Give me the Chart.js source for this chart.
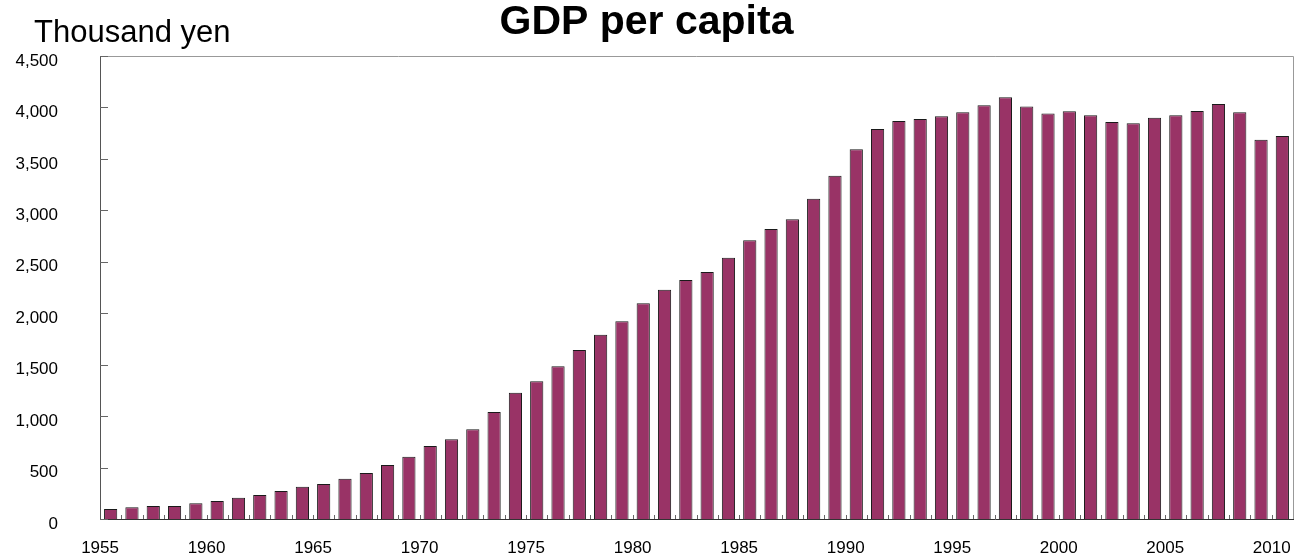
<!DOCTYPE html>
<html lang="en">
<head>
  <meta charset="UTF-8" />
  <title>GDP per capita</title>
  <script src="https://cdn.jsdelivr.net/npm/chart.js"></script>
  <style>
    body {
      margin: 0;
      background: #ffffff;
      overflow: hidden;
    }
    canvas {
      display: block;
    }
  </style>
</head>
<body>
  <canvas id="gdpChart" width="1298" height="557"></canvas>

  <script>
    const years = [
      "1955", "1956", "1957", "1958", "1959", "1960", "1961", "1962", "1963", "1964",
      "1965", "1966", "1967", "1968", "1969", "1970", "1971", "1972", "1973", "1974",
      "1975", "1976", "1977", "1978", "1979", "1980", "1981", "1982", "1983", "1984",
      "1985", "1986", "1987", "1988", "1989", "1990", "1991", "1992", "1993", "1994",
      "1995", "1996", "1997", "1998", "1999", "2000", "2001", "2002", "2003", "2004",
      "2005", "2006", "2007", "2008", "2009", "2010"
    ];

    // thousand yen
    const gdpPerCapita = [
      97, 113, 126, 126, 152, 175, 207, 233, 272, 314,
      340, 392, 447, 525, 606, 710, 775, 872, 1040, 1228,
      1338, 1484, 1643, 1791, 1922, 2097, 2229, 2323, 2401, 2540,
      2709, 2819, 2913, 3113, 3337, 3593, 3791, 3868, 3888, 3914,
      3953, 4021, 4099, 4008, 3940, 3962, 3924, 3859, 3846, 3901,
      3924, 3966, 4034, 3953, 3687, 3723
    ];

    const yTicks = [0, 500, 1000, 1500, 2000, 2500, 3000, 3500, 4000, 4500];
    const labelYears = ["1955", "1960", "1965", "1970", "1975", "1980", "1985", "1990", "1995", "2000", "2005", "2010"];

    const FONT = "'Liberation Sans', Arial, sans-serif";

    // frame, inner tick marks and the unit label
    const extras = {
      id: 'extras',
      afterDraw(chart) {
        const { ctx, chartArea: a, scales } = chart;
        ctx.save();

        ctx.strokeStyle = '#999';
        ctx.lineWidth = 1;
        ctx.beginPath();
        ctx.moveTo(a.left, a.top + 0.5);
        ctx.lineTo(a.right + 0.5, a.top + 0.5);
        ctx.lineTo(a.right + 0.5, a.bottom);
        ctx.stroke();

        ctx.strokeStyle = '#666';
        ctx.beginPath();
        yTicks.forEach(v => {
          const y = Math.round(scales.y.getPixelForValue(v)) + 0.5;
          ctx.moveTo(a.left, y);
          ctx.lineTo(a.left + 8, y);
        });
        for (let i = 1; i < years.length; i++) {
          const x = Math.round((scales.x.getPixelForValue(i - 1) + scales.x.getPixelForValue(i)) / 2) + 0.5;
          ctx.moveTo(x, a.bottom);
          ctx.lineTo(x, a.bottom - 4);
        }
        ctx.stroke();

        ctx.fillStyle = '#000';
        ctx.font = '31px ' + FONT;
        ctx.textBaseline = 'alphabetic';
        ctx.textAlign = 'left';
        ctx.fillText('Thousand yen', 34, 42);
        ctx.restore();
      }
    };

    const ctx = document.getElementById('gdpChart').getContext('2d');
    new Chart(ctx, {
      type: 'bar',
      data: {
        labels: years,
        datasets: [{
          label: 'GDP per capita',
          data: gdpPerCapita,
          backgroundColor: '#993366',
          borderColor: '#1a1a1a',
          borderWidth: 1,
          barPercentage: 0.62,
          categoryPercentage: 1
        }]
      },
      options: {
        responsive: false,
        animation: false,
        layout: { padding: { left: 0, right: 5, top: 0, bottom: 0 } },
        plugins: {
          legend: { display: false },
          tooltip: { enabled: false },
          title: {
            display: true,
            text: 'GDP per capita',
            color: '#000',
            font: { family: FONT, size: 41, weight: 'bold', lineHeight: 1 },
            padding: { top: 2, bottom: 13 }
          }
        },
        scales: {
          x: {
            grid: { display: false, drawTicks: false },
            border: { color: '#333', width: 1 },
            ticks: {
              autoSkip: false,
              maxRotation: 0,
              padding: 19,
              labelOffset: -10.6,
              color: '#000',
              font: { family: FONT, size: 17 },
              callback: function (val) {
                const y = this.getLabelForValue(val);
                return labelYears.includes(y) ? y : '';
              }
            },
            afterFit(scale) {
              scale.height = 38;
              scale.paddingLeft = 0;
              scale.paddingRight = 0;
            }
          },
          y: {
            min: 0,
            max: 4500,
            grid: { display: false, drawTicks: false },
            border: { color: '#555', width: 1 },
            afterBuildTicks(scale) {
              scale.ticks = yTicks.map(v => ({ value: v }));
            },
            ticks: {
              padding: 42,
              labelOffset: 5,
              color: '#000',
              font: { family: FONT, size: 17 },
              callback: v => v.toLocaleString('en-US')
            },
            afterFit(scale) {
              scale.width = 100;
              scale.paddingTop = 0;
              scale.paddingBottom = 0;
            }
          }
        }
      },
      plugins: [extras]
    });
  </script>
</body>
</html>
